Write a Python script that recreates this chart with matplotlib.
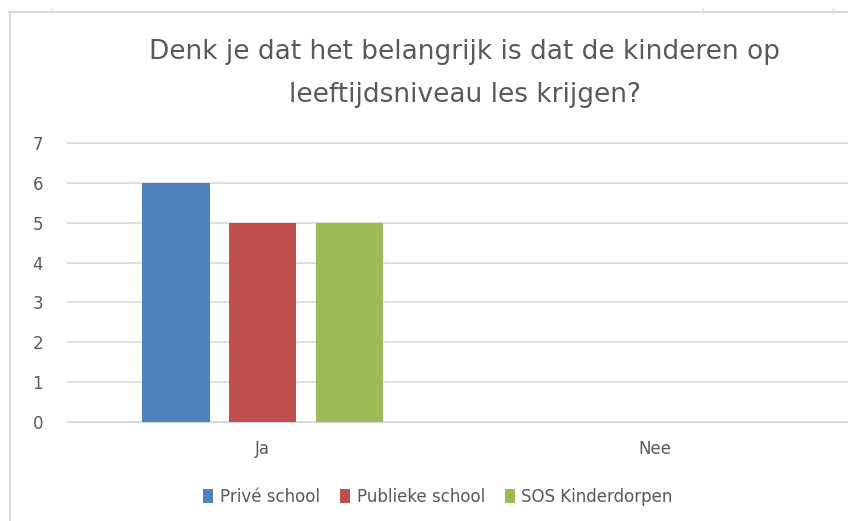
import matplotlib.pyplot as plt
import numpy as np
from matplotlib.lines import Line2D
from matplotlib.patches import Patch

# data
categories = ['Ja', 'Nee']
series_names = ['Privé school', 'Publieke school', 'SOS Kinderdorpen']
prive = [6, 0]
publiek = [5, 0]
sos = [5, 0]
yticks = [0, 1, 2, 3, 4, 5, 6, 7]

colors = ['#4F81BD', '#C0504D', '#9BBB59']
text_col = '#595959'
grid_col = '#D9D9D9'

plt.rcParams['font.family'] = ['Liberation Sans Narrow', 'DejaVu Sans']

W, H = 848, 521
fig = plt.figure(figsize=(W / 100, H / 100), dpi=100)

# axes placed in pixel terms
left, right, bottom, top = 68, 848, 422.3, 142.7
ax = fig.add_axes([left / W, 1 - bottom / H, (right - left) / W, (bottom - top) / H])

x = np.arange(len(categories))
width = 0.172
step = 0.221
for i, (vals, name) in enumerate(zip([prive, publiek, sos], series_names)):
    ax.bar(x + (i - 1) * step, vals, width, color=colors[i], label=name, zorder=3)

ax.set_xlim(-0.497, 1.494)
ax.set_ylim(0, 7)
ax.set_yticks(yticks)
ax.set_xticks(x)
ax.set_xticklabels(categories)
ax.yaxis.grid(True, color=grid_col, linewidth=1.2, zorder=0)
for gl in ax.get_ygridlines():
    gl.set_clip_on(False)
ax.set_axisbelow(True)
for s in ['top', 'right', 'left']:
    ax.spines[s].set_visible(False)
ax.spines['bottom'].set_color(grid_col)
ax.spines['bottom'].set_linewidth(1.2)
ax.tick_params(axis='both', length=0, colors=text_col, labelsize=12)
ax.tick_params(axis='x', pad=13)
ax.tick_params(axis='y', pad=18)

# title
fig.text(465 / W, 1 - 52 / H, 'Denk je dat het belangrijk is dat de kinderen op',
         ha='center', va='center', fontsize=19, color=text_col)
fig.text(465 / W, 1 - 95 / H, 'leeftijdsniveau les krijgen?',
         ha='center', va='center', fontsize=19, color=text_col)

# legend
handles = [Patch(facecolor=c) for c in colors]
fig.legend(handles, series_names, loc='center', bbox_to_anchor=(438 / W, 1 - 497 / H),
           ncol=3, frameon=False, fontsize=12, labelcolor=text_col,
           handlelength=0.6, handleheight=0.9, handletextpad=0.4, columnspacing=1.2)

# chart frame (cropped)
fig.add_artist(Line2D([9 / W, 1], [1 - 12 / H, 1 - 12 / H], color=grid_col, linewidth=1.5))
fig.add_artist(Line2D([9.5 / W, 9.5 / W], [0, 1 - 12 / H], color=grid_col, linewidth=1.5))
for tx in [52, 703, 833]:
    fig.add_artist(Line2D([tx / W, tx / W], [1 - 9 / H, 1 - 12 / H], color=grid_col, linewidth=1))

fig.savefig('out.png', dpi=100)
